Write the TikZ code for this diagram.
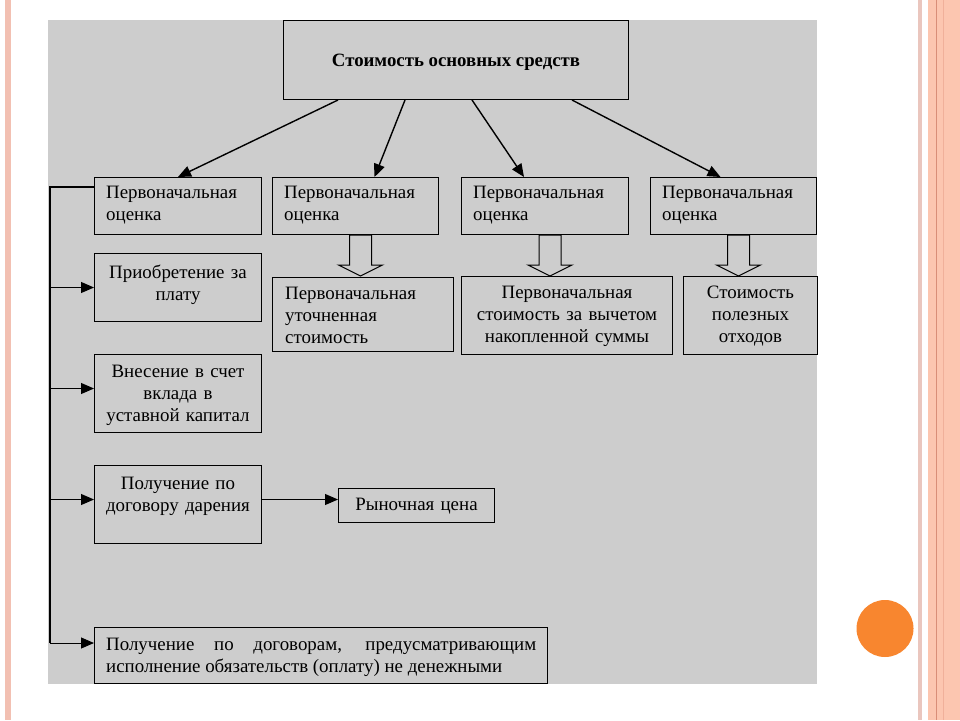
\documentclass[tikz,border=0pt]{standalone}
\usepackage{fontspec}
\setmainfont{Liberation Serif}
\usetikzlibrary{arrows.meta,calc}
\definecolor{bggray}{RGB}{205,205,205}
\definecolor{stripepink}{RGB}{242,192,178}
\definecolor{stripelight}{RGB}{234,198,190}
\definecolor{salmon}{RGB}{252,198,176}
\definecolor{salmondark}{RGB}{217,142,120}
\definecolor{salmonmid}{RGB}{240,176,154}
\definecolor{orangedot}{RGB}{248,134,47}
\begin{document}
\begin{tikzpicture}[x=1pt,y=-1pt,
  box/.style={draw=black, line width=1pt, fill=bggray, anchor=north west, inner sep=0pt},
  txt/.style={inner sep=0pt, font=\fontsize{18.9}{22}\selectfont, text width=#1},
  txt/.default=160pt,
  arr/.style={line width=1.4pt, -{Triangle[length=13pt,width=11pt]}},
  arrl/.style={line width=1pt, -{Triangle[length=13pt,width=11pt]}},
  trunk/.style={line width=2pt},
  blk/.style={draw=black, line width=1pt, fill=bggray, line join=miter}
]
\useasboundingbox (0,0) rectangle (960,720);
% slide decoration
\fill[white] (0,0) rectangle (960,720);
\fill[stripepink] (5,0) rectangle (11,720);
\fill[stripelight] (918,0) rectangle (922,720);
\fill[salmon] (928,0) rectangle (960,720);
\fill[salmondark] (936,0) rectangle (937.2,720);
\fill[salmonmid] (943,0) rectangle (944,720);
\fill[orangedot] (885,628.5) circle[radius=28.5];
% gray panel
\fill[bggray] (48,20) rectangle (817,684);

% top box
\node[box, minimum width=345pt, minimum height=79pt] (top) at (283,20) {};
\node[inner sep=0pt, anchor=base, font=\fontsize{18.8}{22}\selectfont\bfseries] (toptxt) at ($(top.north)+(0,46)$) {Стоимость основных средств};

% row 1
\node[box, minimum width=167pt, minimum height=57pt] (t1) at (94,177) {};
\node[box, minimum width=166pt, minimum height=57pt] (t2) at (272,177) {};
\node[box, minimum width=167pt, minimum height=57pt] (t3) at (461,177) {};
\node[box, minimum width=166pt, minimum height=57pt] (t4) at (650,177) {};
\foreach \b in {t1,t2,t3,t4}{
  \node[txt=155pt, align=left, anchor=base west] (\b txt) at ($(\b.north west)+(12,21)$) {Первоначальная\\оценка};
}

% arrows from the top box
\draw[arr] ([xshift=55pt]top.south west) -- (t1.north);
\draw[arr] ([xshift=122pt]top.south west) -- ([xshift=19pt]t2.north);
\draw[arr] ([xshift=189pt]top.south west) -- ([xshift=-21pt]t3.north);
\draw[arr] ([xshift=289pt]top.south west) -- ([xshift=-13pt]t4.north);

% row 2
\node[box, minimum width=181pt, minimum height=74pt] (b2) at (272,277) {};
\node[box, minimum width=211pt, minimum height=78pt] (b3) at (461,276) {};
\node[box, minimum width=134pt, minimum height=78pt] (b4) at (683,276) {};
\node[txt=170pt, align=left, anchor=base west] (b2txt) at ($(b2.north west)+(13,22)$) {Первоначальная\\уточненная\\стоимость};
\node[txt=208pt, align=center, anchor=base] (b3txt) at ($(b3.north)+(0,22)$) {Первоначальная\\стоимость за вычетом\\накопленной суммы};
\node[txt=130pt, align=center, anchor=base] (b4txt) at ($(b4.north)+(0,22)$) {Стоимость\\полезных\\отходов};

% hollow block arrows
\foreach \b in {t2,t3,t4}{
  \draw[blk] ($(\b.south)+(-6,0)$) -- ++(0,30) -- ++(-11,0) -- ++(22,11) -- ++(22,-11) -- ++(-11,0) -- ++(0,-30) -- cycle;
}

% left column
\node[box, minimum width=167pt, minimum height=68pt] (l1) at (94,253) {};
\node[box, minimum width=167pt, minimum height=78pt] (l2) at (94,354) {};
\node[box, minimum width=167pt, minimum height=78pt] (l3) at (94,465) {};
\node[box, minimum width=156pt, minimum height=34pt] (mk) at (338,488) {};
\node[box, minimum width=453pt, minimum height=56pt] (bot) at (94,627) {};
\node[txt=165pt, align=center, anchor=base] (l1txt) at ($(l1.north)+(0,25)$) {Приобретение за\\плату};
\node[txt=165pt, align=center, anchor=base] (l2txt) at ($(l2.north)+(0,23)$) {Внесение в счет\\вклада в\\уставной капитал};
\node[txt=165pt, align=center, anchor=base] (l3txt) at ($(l3.north)+(0,24)$) {Получение по\\договору дарения};
\node[txt=150pt, align=center, anchor=base] (mktxt) at ($(mk.north)+(0,22)$) {Рыночная цена};
\node[txt=430pt, align=justify, anchor=base west] (bottxt) at ($(bot.north west)+(12,23)$) {Получение по договорам, предусматривающим\linebreak исполнение обязательств (оплату) не денежными};

% trunk line and branches
\coordinate (trtop) at (50,187);
\coordinate (trbot) at (50,643);
\draw[trunk] ([yshift=-10pt]t1.north west) -- (trtop) -- (trbot);
\draw[arrl] (trtop |- l1.west) -- (l1.west);
\draw[arrl] ([yshift=5pt]trtop |- l2.west) -- ([yshift=5pt]l2.west);
\draw[arrl] ([yshift=5pt]trtop |- l3.west) -- ([yshift=5pt]l3.west);
\draw[arrl] (trbot) -- (trbot -| bot.west);
\draw[arrl] ([yshift=5pt]l3.east) -- ([yshift=5pt]l3.east -| mk.west);
\end{tikzpicture}
\end{document}
